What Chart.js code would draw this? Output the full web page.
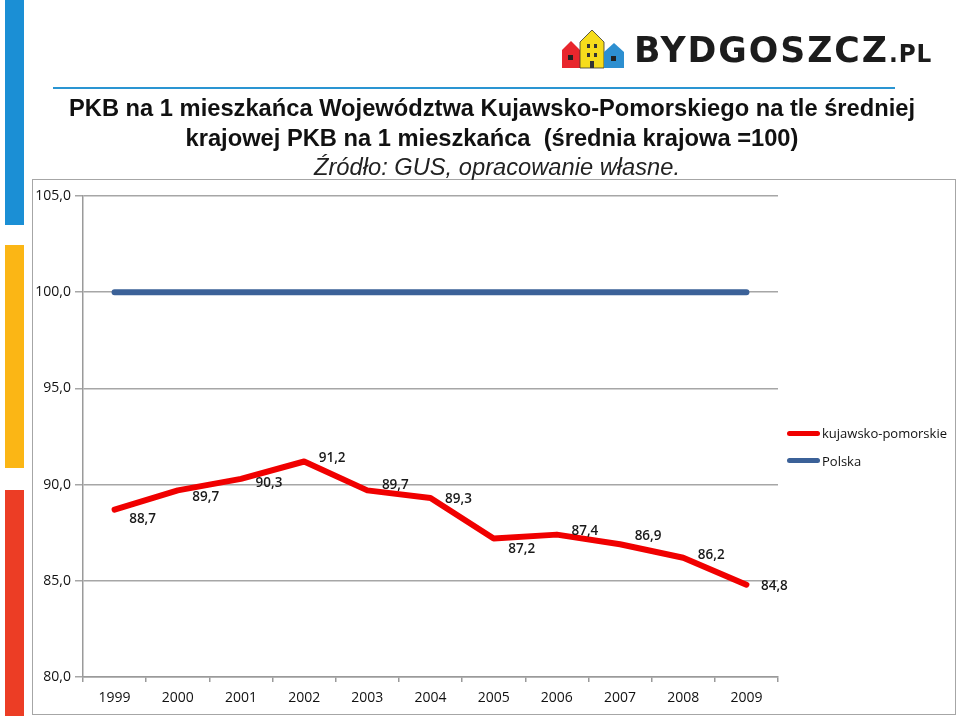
<!DOCTYPE html>
<html>
<head>
<meta charset="utf-8">
<script src="https://cdn.jsdelivr.net/npm/chart.js@4/dist/chart.umd.min.js"></script>
<style>
  html, body { margin: 0; padding: 0; background: #fff; }
  #wrap { position: relative; width: 959px; height: 718px; overflow: hidden; }
  #c { position: absolute; left: 0; top: 0; }
  .bar { position: absolute; left: 5px; width: 19px; }
  #frame { position: absolute; left: 32px; top: 179px; width: 924px; height: 536px; border: 1.5px solid #a6a6a6; box-sizing: border-box; }
  #rule { position: absolute; left: 53px; top: 87px; width: 842px; height: 2px; background: #2a95d2; }
  .t { position: absolute; left: 0; width: 984px; text-align: center; font-family: "Liberation Sans", Arial, sans-serif; color: #111; white-space: nowrap; line-height: 28px; }
  #t1 { top: 94px; font-size: 23.7px; font-weight: bold; }
  #t2 { top: 124px; font-size: 23.7px; font-weight: bold; }
  #t3 { top: 153px; font-size: 23.7px; font-style: italic; color: #222; left: 5px; }
  #logo { position: absolute; left: 560px; top: 28px; height: 44px; }
  #logotext { position: absolute; left: 634px; top: 29px; font-family: "DejaVu Sans", sans-serif; font-weight: bold; font-size: 36px; color: #1c1c1c; letter-spacing: 2px; transform: scaleX(0.965); transform-origin: left; white-space: nowrap; }
  #logotext small { font-size: 24px; letter-spacing: 1px; }
  .leg { position: absolute; font-family: "Open Sans", sans-serif; font-size: 13px; color: #111; white-space: nowrap; }
  .legline { position: absolute; width: 33px; height: 5px; border-radius: 3px; }
</style>
</head>
<body>
<div id="wrap">
  <div class="bar" style="top:0;height:225px;background:#1b8fd5;"></div>
  <div class="bar" style="top:245px;height:223px;background:#fbb615;"></div>
  <div class="bar" style="top:490px;height:226px;background:#ec3d25;"></div>
  <div id="frame"></div>
  <canvas id="c" width="959" height="718"></canvas>
  <div id="rule"></div>
  <div class="t" id="t1">PKB na 1 mieszkańca Województwa Kujawsko-Pomorskiego na tle średniej</div>
  <div class="t" id="t2">krajowej PKB na 1 mieszkańca&nbsp; (średnia krajowa =100)</div>
  <div class="t" id="t3">Źródło: GUS, opracowanie własne.</div>
  <svg id="logo" width="70" height="44" viewBox="0 0 70 44">
    <polygon points="2,22 11,13 20,22 20,40 2,40" fill="#e8262d"/>
    <polygon points="20,14 32,2 44,14 44,40 20,40" fill="#f6dc1c" stroke="#333" stroke-width="0.8"/>
    <polygon points="44,24 54,15 64,24 64,40 44,40" fill="#2d8fd0"/>
    <rect x="27" y="16" width="3" height="4" fill="#333"/><rect x="34" y="16" width="3" height="4" fill="#333"/>
    <rect x="27" y="25" width="3" height="4" fill="#333"/><rect x="34" y="25" width="3" height="4" fill="#333"/>
    <rect x="30" y="33" width="4" height="7" fill="#333"/>
    <rect x="8" y="27" width="5" height="5" fill="#222"/><rect x="51" y="28" width="5" height="5" fill="#222"/>
  </svg>
  <div id="logotext">BYDGOSZCZ<small>.PL</small></div>
  <div class="legline" style="left:787px;top:431px;background:#f00000;"></div>
  <div class="leg" style="left:822px;top:424px;">kujawsko-pomorskie</div>
  <div class="legline" style="left:787px;top:458px;background:#3b6198;"></div>
  <div class="leg" style="left:822px;top:452px;">Polska</div>
</div>
<script>
const years = ["1999","2000","2001","2002","2003","2004","2005","2006","2007","2008","2009"];
const kujawskoPomorskie = [88.7, 89.7, 90.3, 91.2, 89.7, 89.3, 87.2, 87.4, 86.9, 86.2, 84.8];
const polska = [100, 100, 100, 100, 100, 100, 100, 100, 100, 100, 100];
const yTicks = [80, 85, 90, 95, 100, 105];
// vertical nudges of value labels (px), style only
const labelNudgeY = [10, 7, 4, -3, -5, 1, 11, -3, -8, -3, 2];

const fmt = v => v.toFixed(1).replace('.', ',');

const valueLabels = {
  id: 'valueLabels',
  afterDatasetsDraw(chart) {
    const ctx = chart.ctx;
    const meta = chart.getDatasetMeta(0);
    ctx.save();
    ctx.font = '600 13.5px "Open Sans", sans-serif';
    ctx.fillStyle = '#1a1a1a';
    ctx.textAlign = 'center';
    ctx.textBaseline = 'middle';
    meta.data.forEach((pt, i) => {
      ctx.fillText(fmt(kujawskoPomorskie[i]), pt.x + 28, pt.y + labelNudgeY[i]);
    });
    ctx.restore();
  }
};

new Chart(document.getElementById('c'), {
  type: 'line',
  data: {
    labels: years,
    datasets: [
      { label: 'kujawsko-pomorskie', data: kujawskoPomorskie, borderColor: '#f00000', borderWidth: 6, pointRadius: 0, tension: 0, borderCapStyle: 'round', borderJoinStyle: 'round' },
      { label: 'Polska', data: polska, borderColor: '#3b6198', borderWidth: 6, pointRadius: 0, tension: 0, borderCapStyle: 'round' }
    ]
  },
  options: {
    responsive: false,
    animation: false,
    events: [],
    layout: { padding: { left: 0, top: 196, right: 181, bottom: 8 } },
    plugins: { legend: { display: false }, tooltip: { enabled: false }, title: { display: false } },
    scales: {
      x: {
        offset: true,
        grid: { offset: true, drawOnChartArea: false, drawTicks: true, tickLength: 5, color: '#9a9a9a', lineWidth: 1.5 },
        border: { color: '#9a9a9a', width: 1.5 },
        ticks: { color: '#111', font: { family: '"Open Sans", sans-serif', size: 14 }, padding: 8, maxRotation: 0 },
        afterFit(s) { s.height = 33; }
      },
      y: {
        min: 80, max: 105,
        afterBuildTicks(s) { s.ticks = yTicks.map(v => ({ value: v })); },
        grid: { color: '#a6a6a6', lineWidth: 1.5, tickLength: 8 },
        border: { color: '#9a9a9a', width: 1.5 },
        ticks: { color: '#111', font: { family: '"Open Sans", sans-serif', size: 14 }, padding: 4, callback: v => fmt(v) },
        afterFit(s) { s.width = 83; }
      }
    }
  },
  plugins: [valueLabels]
});
</script>
</body>
</html>
